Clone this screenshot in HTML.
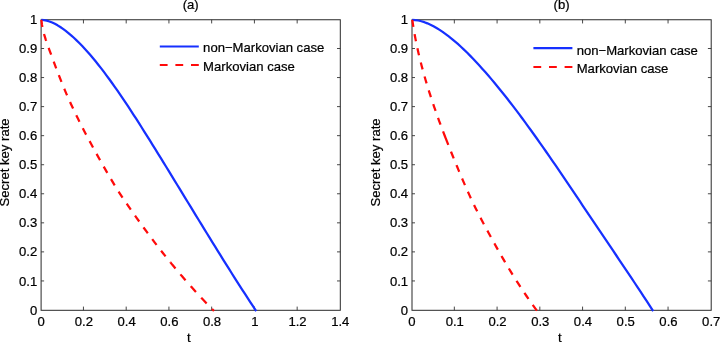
<!DOCTYPE html>
<html><head><meta charset="utf-8"><title>Secret key rate</title>
<style>
html,body{margin:0;padding:0;background:#fff;}
body{width:720px;height:342px;overflow:hidden;}
svg{display:block;font-family:"Liberation Sans",sans-serif;font-size:13.1px;fill:#000;}
text{stroke:#000;stroke-width:0.22px;}
</style></head><body>
<svg width="720" height="342" viewBox="0 0 720 342">
<rect width="720" height="342" fill="#fff"/>
<rect x="41.1" y="19.75" width="299.20" height="290.55" fill="none" stroke="#282828" stroke-width="1"/>
<text x="41.10" y="326.30" text-anchor="middle">0</text>
<text x="83.84" y="326.30" text-anchor="middle">0.2</text>
<text x="126.59" y="326.30" text-anchor="middle">0.4</text>
<text x="169.33" y="326.30" text-anchor="middle">0.6</text>
<text x="212.07" y="326.30" text-anchor="middle">0.8</text>
<text x="254.81" y="326.30" text-anchor="middle">1</text>
<text x="297.56" y="326.30" text-anchor="middle">1.2</text>
<text x="340.30" y="326.30" text-anchor="middle">1.4</text>
<text x="37.20" y="314.60" text-anchor="end">0</text>
<text x="37.20" y="285.55" text-anchor="end">0.1</text>
<text x="37.20" y="256.49" text-anchor="end">0.2</text>
<text x="37.20" y="227.44" text-anchor="end">0.3</text>
<text x="37.20" y="198.38" text-anchor="end">0.4</text>
<text x="37.20" y="169.33" text-anchor="end">0.5</text>
<text x="37.20" y="140.27" text-anchor="end">0.6</text>
<text x="37.20" y="111.21" text-anchor="end">0.7</text>
<text x="37.20" y="82.16" text-anchor="end">0.8</text>
<text x="37.20" y="53.11" text-anchor="end">0.9</text>
<text x="37.20" y="24.05" text-anchor="end">1</text>
<path d="M83.44,310.3v-3.7M83.44,19.75v3.7M126.19,310.3v-3.7M126.19,19.75v3.7M168.93,310.3v-3.7M168.93,19.75v3.7M211.67,310.3v-3.7M211.67,19.75v3.7M254.41,310.3v-3.7M254.41,19.75v3.7M297.16,310.3v-3.7M297.16,19.75v3.7M41.1,280.94h3.0M340.3,280.94h-3.3M41.1,251.89h3.0M340.3,251.89h-3.3M41.1,222.83h3.0M340.3,222.83h-3.3M41.1,193.78h3.0M340.3,193.78h-3.3M41.1,164.72h3.0M340.3,164.72h-3.3M41.1,135.67h3.0M340.3,135.67h-3.3M41.1,106.61h3.0M340.3,106.61h-3.3M41.1,77.56h3.0M340.3,77.56h-3.3M41.1,48.51h3.0M340.3,48.51h-3.3" stroke="#333" stroke-width="0.9" fill="none"/>
<text x="190.70" y="9.4" text-anchor="middle">(a)</text>
<text x="188.90" y="341.7" text-anchor="middle">t</text>
<text transform="translate(9.40,162.43) rotate(-90)" text-anchor="middle">Secret key rate</text>
<path d="M159.8,46.5h39" stroke="#1630ff" stroke-width="2.1" fill="none"/>
<path d="M159.8,65.0h39" stroke="#ff0a0a" stroke-width="2.1" stroke-dasharray="7.8 7.8" fill="none"/>
<text x="203.1" y="52.3">non−Markovian case</text>
<text x="203.1" y="70.9">Markovian case</text>
<rect x="412.0" y="19.75" width="299.20" height="290.55" fill="none" stroke="#282828" stroke-width="1"/>
<text x="412.00" y="326.30" text-anchor="middle">0</text>
<text x="454.74" y="326.30" text-anchor="middle">0.1</text>
<text x="497.49" y="326.30" text-anchor="middle">0.2</text>
<text x="540.23" y="326.30" text-anchor="middle">0.3</text>
<text x="582.97" y="326.30" text-anchor="middle">0.4</text>
<text x="625.71" y="326.30" text-anchor="middle">0.5</text>
<text x="668.46" y="326.30" text-anchor="middle">0.6</text>
<text x="711.20" y="326.30" text-anchor="middle">0.7</text>
<text x="408.10" y="314.60" text-anchor="end">0</text>
<text x="408.10" y="285.55" text-anchor="end">0.1</text>
<text x="408.10" y="256.49" text-anchor="end">0.2</text>
<text x="408.10" y="227.44" text-anchor="end">0.3</text>
<text x="408.10" y="198.38" text-anchor="end">0.4</text>
<text x="408.10" y="169.33" text-anchor="end">0.5</text>
<text x="408.10" y="140.27" text-anchor="end">0.6</text>
<text x="408.10" y="111.21" text-anchor="end">0.7</text>
<text x="408.10" y="82.16" text-anchor="end">0.8</text>
<text x="408.10" y="53.11" text-anchor="end">0.9</text>
<text x="408.10" y="24.05" text-anchor="end">1</text>
<path d="M454.34,310.3v-3.7M454.34,19.75v3.7M497.09,310.3v-3.7M497.09,19.75v3.7M539.83,310.3v-3.7M539.83,19.75v3.7M582.57,310.3v-3.7M582.57,19.75v3.7M625.31,310.3v-3.7M625.31,19.75v3.7M668.06,310.3v-3.7M668.06,19.75v3.7M412.0,280.94h3.0M711.2,280.94h-3.3M412.0,251.89h3.0M711.2,251.89h-3.3M412.0,222.83h3.0M711.2,222.83h-3.3M412.0,193.78h3.0M711.2,193.78h-3.3M412.0,164.72h3.0M711.2,164.72h-3.3M412.0,135.67h3.0M711.2,135.67h-3.3M412.0,106.61h3.0M711.2,106.61h-3.3M412.0,77.56h3.0M711.2,77.56h-3.3M412.0,48.51h3.0M711.2,48.51h-3.3" stroke="#333" stroke-width="0.9" fill="none"/>
<text x="561.60" y="9.4" text-anchor="middle">(b)</text>
<text x="559.80" y="341.7" text-anchor="middle">t</text>
<text transform="translate(380.30,162.43) rotate(-90)" text-anchor="middle">Secret key rate</text>
<path d="M533.4,48.1h39" stroke="#1630ff" stroke-width="2.1" fill="none"/>
<path d="M533.4,67.0h39" stroke="#ff0a0a" stroke-width="2.1" stroke-dasharray="7.8 7.8" fill="none"/>
<text x="576.7" y="54.6">non−Markovian case</text>
<text x="576.7" y="72.7">Markovian case</text>
<path d="M41.30,19.80 L44.01,20.07 L46.73,20.63 L49.44,21.46 L52.16,22.53 L54.87,23.83 L57.58,25.33 L60.30,27.03 L63.01,28.89 L65.73,30.90 L68.44,33.05 L71.15,35.35 L73.87,37.77 L76.58,40.33 L79.29,43.00 L82.01,45.79 L84.72,48.70 L87.44,51.70 L90.15,54.81 L92.86,58.02 L95.58,61.31 L98.29,64.69 L101.01,68.15 L103.72,71.68 L106.43,75.30 L109.15,78.98 L111.86,82.73 L114.58,86.55 L117.29,90.42 L120.00,94.36 L122.72,98.35 L125.43,102.39 L128.15,106.47 L130.86,110.60 L133.57,114.77 L136.29,118.98 L139.00,123.22 L141.72,127.49 L144.43,131.79 L147.14,136.11 L149.86,140.45 L152.57,144.81 L155.28,149.18 L158.00,153.56 L160.71,157.95 L163.43,162.36 L166.14,166.77 L168.85,171.19 L171.57,175.61 L174.28,180.04 L177.00,184.48 L179.71,188.92 L182.42,193.36 L185.14,197.80 L187.85,202.24 L190.57,206.68 L193.28,211.12 L195.99,215.56 L198.71,219.99 L201.42,224.42 L204.14,228.84 L206.85,233.26 L209.56,237.66 L212.28,242.06 L214.99,246.45 L217.71,250.82 L220.42,255.19 L223.13,259.54 L225.85,263.87 L228.56,268.19 L231.27,272.50 L233.99,276.78 L236.70,281.05 L239.42,285.29 L242.13,289.52 L244.84,293.72 L247.56,297.91 L250.27,302.06 L252.99,306.20 L255.70,310.30 L256.20,311.05" stroke="#1630ff" stroke-width="2.25" fill="none" stroke-linejoin="round"/>
<path d="M412.20,19.80 L415.24,20.03 L418.29,20.51 L421.33,21.23 L424.38,22.18 L427.42,23.34 L430.47,24.70 L433.51,26.25 L436.55,27.97 L439.60,29.86 L442.64,31.89 L445.69,34.06 L448.73,36.35 L451.78,38.78 L454.82,41.32 L457.86,43.97 L460.91,46.73 L463.95,49.59 L467.00,52.56 L470.04,55.61 L473.09,58.75 L476.13,61.97 L479.17,65.27 L482.22,68.64 L485.26,72.07 L488.31,75.57 L491.35,79.13 L494.40,82.75 L497.44,86.43 L500.48,90.17 L503.53,93.96 L506.57,97.81 L509.62,101.70 L512.66,105.65 L515.71,109.64 L518.75,113.68 L521.79,117.76 L524.84,121.88 L527.88,126.05 L530.93,130.25 L533.97,134.48 L537.02,138.75 L540.06,143.05 L543.11,147.39 L546.15,151.75 L549.19,156.13 L552.24,160.54 L555.28,164.97 L558.33,169.43 L561.37,173.90 L564.42,178.38 L567.46,182.88 L570.50,187.39 L573.55,191.91 L576.59,196.44 L579.64,200.97 L582.68,205.51 L585.73,210.05 L588.77,214.58 L591.81,219.12 L594.86,223.65 L597.90,228.17 L600.95,232.69 L603.99,237.20 L607.04,241.71 L610.08,246.23 L613.12,250.74 L616.17,255.25 L619.21,259.77 L622.26,264.30 L625.30,268.83 L628.35,273.38 L631.39,277.93 L634.43,282.50 L637.48,287.09 L640.52,291.69 L643.57,296.31 L646.61,300.95 L649.66,305.61 L652.70,310.30 L653.19,311.05" stroke="#1630ff" stroke-width="2.25" fill="none" stroke-linejoin="round"/>
<path d="M41.40,19.80 L41.96,24.75 L42.92,29.70 L44.21,34.65 L45.74,39.60 L47.44,44.56 L49.24,49.51 L51.06,54.46 L52.89,59.41 L54.72,64.36 L56.58,69.31 L58.47,74.26 L60.40,79.21 L62.38,84.16 L64.42,89.11 L66.52,94.07 L68.69,99.02 L70.94,103.97 L73.24,108.92 L75.61,113.87 L78.04,118.82 L80.52,123.77 L83.05,128.72 L85.63,133.67 L88.25,138.62 L90.92,143.58 L93.62,148.53 L96.35,153.48 L99.12,158.43 L101.91,163.38 L104.73,168.33 L107.57,173.28 L110.44,178.23 L113.38,183.18 L116.40,188.13 L119.54,193.09 L122.81,198.04 L126.19,202.99 L129.62,207.94 L133.09,212.89 L136.60,217.84 L140.14,222.79 L143.74,227.74 L147.38,232.69 L151.07,237.64 L154.82,242.60 L158.63,247.55 L162.50,252.50 L166.43,257.45 L170.43,262.40" stroke="#ff0a0a" stroke-width="2.25" stroke-dasharray="7.2 7.36" fill="none"/>
<path d="M170.43,262.40 L171.23,263.38 L172.03,264.36 L172.84,265.33 L173.64,266.31 L174.45,267.29 L175.27,268.27 L176.08,269.24 L176.90,270.22 L177.72,271.20 L178.55,272.18 L179.37,273.15 L180.20,274.13 L181.04,275.11 L181.88,276.09 L182.72,277.06 L183.56,278.04 L184.40,279.02 L185.25,280.00 L186.11,280.97 L186.96,281.95 L187.82,282.93 L188.68,283.91 L189.55,284.88 L190.42,285.86 L191.29,286.84 L192.17,287.82 L193.05,288.79 L193.93,289.77 L194.81,290.75 L195.70,291.73 L196.60,292.70 L197.49,293.68 L198.39,294.66 L199.30,295.64 L200.20,296.61 L201.12,297.59 L202.03,298.57 L202.95,299.55 L203.87,300.52 L204.80,301.50 L205.73,302.48 L206.66,303.46 L207.60,304.43 L208.54,305.41 L209.48,306.39 L210.43,307.37 L211.38,308.34 L212.34,309.32 L213.30,310.30 L213.93,310.94" stroke="#ff0a0a" stroke-width="2.25" stroke-dasharray="7.9 7.7" fill="none"/>
<path d="M412.30,19.80 L412.64,22.22 L413.01,24.63 L413.38,27.05 L413.78,29.47 L414.19,31.88 L414.62,34.30 L415.07,36.71 L415.53,39.13 L416.01,41.55 L416.50,43.96 L417.01,46.38 L417.54,48.80 L418.08,51.21 L418.63,53.63 L419.20,56.04 L419.78,58.46 L420.38,60.88 L420.99,63.29 L421.62,65.71 L422.26,68.13 L422.91,70.54 L423.58,72.96 L424.26,75.38 L424.95,77.79 L425.65,80.21 L426.37,82.62 L427.09,85.04 L427.83,87.46 L428.58,89.87 L429.35,92.29 L430.12,94.71 L430.90,97.12 L431.70,99.54 L432.50,101.96 L433.32,104.37 L434.14,106.79 L434.98,109.20 L435.82,111.62 L436.68,114.04 L437.54,116.45 L438.41,118.87 L439.29,121.29 L440.18,123.70 L441.08,126.12 L441.98,128.53 L442.89,130.95 L443.81,133.37 L444.74,135.78 L445.67,138.20 M445.67,138.20 L447.04,141.71 L448.43,145.22 L449.82,148.74 L451.23,152.25 L452.65,155.76 L454.09,159.27 L455.53,162.79 L456.98,166.30 L458.44,169.81 L459.91,173.32 L461.39,176.83 L462.89,180.35 L464.41,183.86 L465.94,187.37 L467.50,190.88 L469.09,194.40 L470.71,197.91 L472.35,201.42 L474.04,204.93 L475.75,208.44 L477.51,211.96 L479.31,215.47 L481.13,218.98 L482.98,222.49 L484.86,226.01 L486.75,229.52 L488.66,233.03 L490.58,236.54 L492.51,240.06 L494.45,243.57 L496.42,247.08 L498.40,250.59 L500.40,254.10 L502.42,257.62 L504.47,261.13 L506.54,264.64 L508.65,268.15 L510.78,271.67 L512.94,275.18 L515.13,278.69 L517.36,282.20 L519.63,285.71 L521.94,289.23 L524.29,292.74 L526.68,296.25 L529.11,299.76 L531.59,303.28 L534.12,306.79 L536.70,310.30 L537.23,311.03" stroke="#ff0a0a" stroke-width="2.25" stroke-dasharray="7.2 7.3" fill="none"/>
</svg>
</body></html>
